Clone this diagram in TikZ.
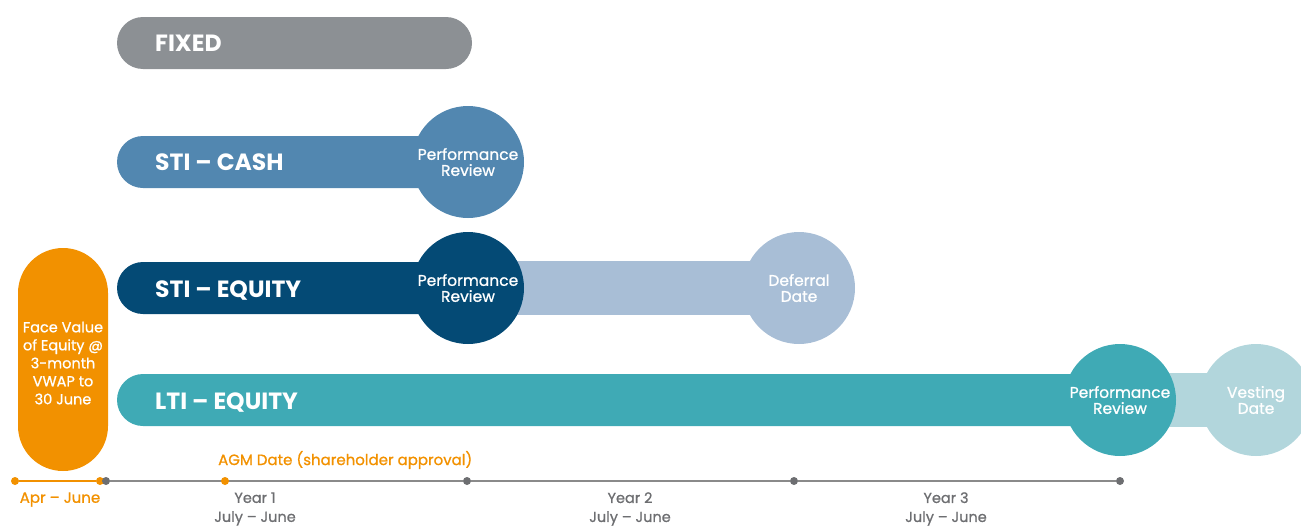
\documentclass[tikz,border=0pt]{standalone}
\usepackage{fontspec}
\setmainfont{Poppins}
\newfontfamily\medfont{Poppins}[FakeBold=0.9]
\definecolor{fixedc}{HTML}{8C9094}
\definecolor{cashc}{HTML}{5287B0}
\definecolor{navyc}{HTML}{044A75}
\definecolor{lightbluec}{HTML}{A8BED6}
\definecolor{tealc}{HTML}{3FAAB5}
\definecolor{lighttealc}{HTML}{B2D6DC}
\definecolor{orangec}{HTML}{F29100}
\definecolor{axisc}{HTML}{8A8A8A}
\definecolor{dotc}{HTML}{6D6E71}
\definecolor{labelc}{HTML}{6D6E71}
\tikzset{
  bar/.style={rectangle, rounded corners=26pt, minimum height=52pt, inner sep=0pt, draw=none},
  circ/.style={circle, minimum size=112pt, inner sep=0pt, draw=none, text=white, align=center,
    font=\medfont\fontsize{15.5}{16}\selectfont},
  bartext/.style={anchor=base west, text=white, font=\fontsize{23.5}{23.5}\selectfont\bfseries, inner sep=0pt},
  axdot/.style={circle, minimum size=8pt, inner sep=0pt, fill=dotc},
  odot/.style={circle, minimum size=8pt, inner sep=0pt, fill=orangec},
  axlabel/.style={text=labelc, align=center, font=\medfont\fontsize{14.5}{19}\selectfont, inner sep=0pt},
  olabel/.style={text=orangec, font=\medfont\fontsize{15}{17}\selectfont, inner sep=0pt},
}
\begin{document}
\begin{tikzpicture}[x=1pt,y=-1pt]
\useasboundingbox (0,0) rectangle (1301,525);
\clip (0,0) rectangle (1301,525);

% FIXED
\node[bar, fill=fixedc, minimum width=355pt] (fixed) at (294.5,43) {};
\node[bartext] (fixedt) at (155,51.5) {FIXED};

% STI - CASH
\node[bar, fill=cashc, minimum width=400pt] (cash) at (317,162) {};
\node[circ, fill=cashc] (cashpr) at (468,162) {Performance\\Review};
\node[bartext] (casht) at (155,170.5) {STI – CASH};

% STI - EQUITY
\node[rectangle, fill=lightbluec, minimum width=331pt, minimum height=54pt, inner sep=0pt] (defbar) at (633.5,288) {};
\node[circ, fill=lightbluec] (defdate) at (799,288) {Deferral\\Date};
\node[bar, fill=navyc, minimum width=400pt] (stieq) at (317,288) {};
\node[circ, fill=navyc] (stipr) at (468,288) {Performance\\Review};
\node[bartext] (stit) at (155,297) {STI – EQUITY};

% LTI - EQUITY
\node[bar, fill=tealc, minimum width=1050pt] (lti) at (642,400) {};
\node[rectangle, fill=lighttealc, minimum width=136pt, minimum height=54pt, inner sep=0pt] (vestbar) at (1188,400) {};
\node[circ, fill=lighttealc] (vest) at (1256,400) {Vesting\\Date};
\node[circ, fill=tealc] (ltipr) at (1120,400) {Performance\\Review};
\node[bartext] (ltit) at (155,409) {LTI – EQUITY};

% Orange pill
\node[rectangle, rounded corners=45pt, fill=orangec, minimum width=90pt, minimum height=223pt, inner sep=0pt] (fv) at (63,359.5) {};
\node[text=white, align=center, inner sep=0pt, font=\medfont\fontsize{14.5}{18}\selectfont] (fvt) at (63,363)
  {Face Value\\of Equity @\\3-month\\VWAP to\\30 June};

% Axis
\node[odot] (o1) at (15,481) {};
\node[odot] (o2) at (100,481) {};
\node[axdot] (a0) at (106,481) {};
\node[axdot] (a1) at (467,481) {};
\node[axdot] (a2) at (794,481) {};
\node[axdot] (a3) at (1120,481) {};
\draw[orangec, line width=1.8pt] (o1) -- (o2);
\draw[axisc, line width=1.8pt] (a0) -- (a1);
\draw[axisc, line width=1.8pt] (a1) -- (a2);
\draw[axisc, line width=1.8pt] (a2) -- (a3);
\node[odot] (agm) at (225,481) {};
\node[olabel, anchor=west] (agmt) at (218,460) {AGM Date (shareholder approval)};
\node[olabel] (aprt) at (60,499.5) {Apr – June};
\node[axlabel] (y1) at (255,509) {Year 1\\July – June};
\node[axlabel] (y2) at (630,509) {Year 2\\July – June};
\node[axlabel] (y3) at (946,509) {Year 3\\July – June};
\end{tikzpicture}
\end{document}
